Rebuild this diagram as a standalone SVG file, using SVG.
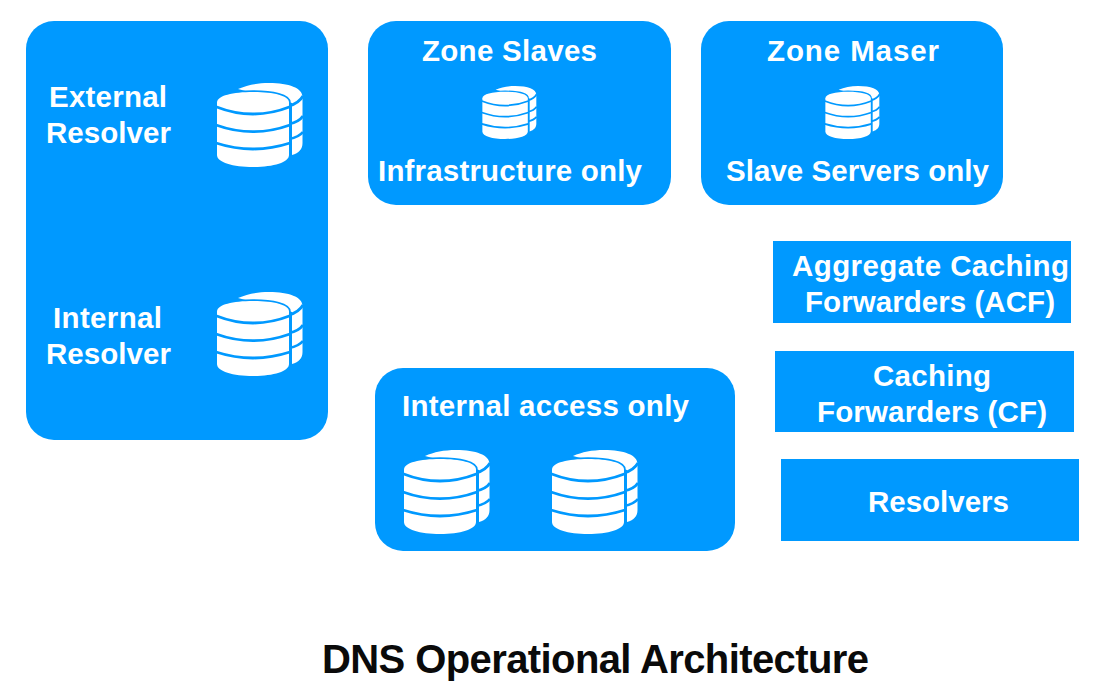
<svg xmlns="http://www.w3.org/2000/svg" xmlns:xlink="http://www.w3.org/1999/xlink" width="1110" height="689" viewBox="0 0 1110 689">
<style>
.box{fill:#0099ff}
text{font-family:"Liberation Sans",Arial,sans-serif;font-weight:700}
.l{fill:#fff;font-size:29.500px}
.t{fill:#0a0a0a;font-size:40px}
.d{fill:#fff}
.f{fill:#fff;stroke:#0099ff;stroke-width:3.500;paint-order:stroke}
.g{fill:none;stroke:#0099ff;stroke-width:2.800}
</style>
<defs>
<symbol id="db" viewBox="0 0 86 84" overflow="visible">
<path class="d" d="M21 6C30 2 40 0 52 0C72 0 85.500 5 85.500 14V60C85.500 66 82 70 75 72V20Z"/>
<path class="g" d="M72 23Q82 20 86 13M72 41Q82 39 86 33M72 56Q82 54 86 49"/>
<path class="f" d="M0 19.500C0 12.500 16 9 36 9S72 12.500 72 19.500V72C72 79.500 56 84 36 84S0 79.500 0 72Z"/>
<path class="g" d="M-1 23.700Q36 38.300 73 23.700M-1 42Q36 55.400 73 42M-1 60Q36 72 73 60"/>
</symbol>
</defs>
<rect width="1110" height="689" fill="#fff"/>
<g id="connectors"/>
<g id="resolver-group">
<rect class="box" x="26" y="21" width="302" height="419" rx="28"/>
<text class="l" x="49" y="106.500" textLength="118">External</text>
<text class="l" x="46" y="142.500" textLength="125">Resolver</text>
<use xlink:href="#db" href="#db" x="217" y="83" width="86" height="84"/>
<text class="l" x="53" y="327.500" textLength="109">Internal</text>
<text class="l" x="46" y="363.500" textLength="125">Resolver</text>
<use xlink:href="#db" href="#db" x="217" y="292" width="86" height="84"/>
</g>
<g id="zone-slaves">
<rect class="box" x="368" y="21" width="303" height="184" rx="28"/>
<text class="l" x="422" y="60.500" textLength="175">Zone Slaves</text>
<use xlink:href="#db" href="#db" x="482" y="86" width="55" height="53"/>
<text class="l" x="378" y="180.500" textLength="264">Infrastructure only</text>
</g>
<g id="zone-master">
<rect class="box" x="701" y="21" width="302" height="184" rx="28"/>
<text class="l" x="767" y="60.500" textLength="172">Zone Maser</text>
<use xlink:href="#db" href="#db" x="825" y="86" width="55" height="53"/>
<text class="l" x="726" y="180.500" textLength="263">Slave Servers only</text>
</g>
<g id="acf">
<rect class="box" x="773" y="241" width="298" height="82"/>
<text class="l" x="792" y="275.500" textLength="277">Aggregate Caching</text>
<text class="l" x="805" y="311.500" textLength="250">Forwarders (ACF)</text>
</g>
<g id="cf">
<rect class="box" x="775" y="351" width="299" height="81"/>
<text class="l" x="873" y="385.500" textLength="118">Caching</text>
<text class="l" x="817" y="421.500" textLength="230">Forwarders (CF)</text>
</g>
<g id="resolvers">
<rect class="box" x="781" y="459" width="298" height="82"/>
<text class="l" x="868" y="511.500" textLength="141">Resolvers</text>
</g>
<g id="internal-access">
<rect class="box" x="375" y="368" width="360" height="183" rx="28"/>
<text class="l" x="402" y="415.500" textLength="287">Internal access only</text>
<use xlink:href="#db" href="#db" x="404" y="450" width="86" height="84"/>
<use xlink:href="#db" href="#db" x="552" y="450" width="86" height="84"/>
</g>
<text id="title" class="t" x="322" y="673" textLength="547">DNS Operational Architecture</text>
</svg>
